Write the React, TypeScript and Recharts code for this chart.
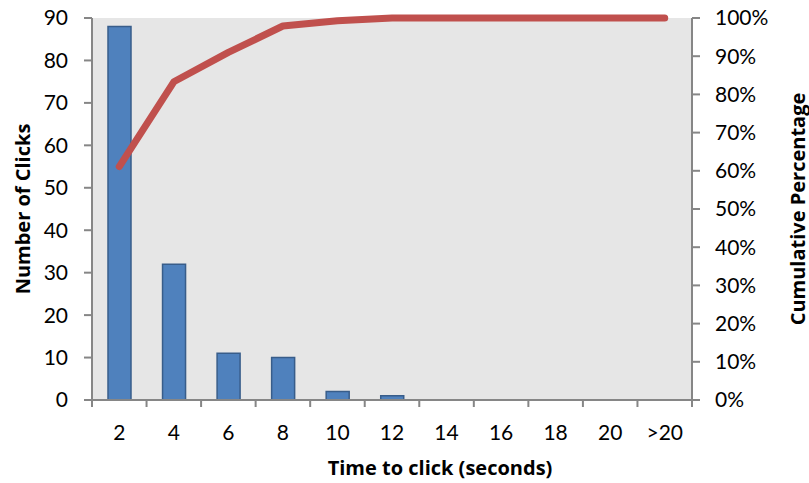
import React from 'react';
import { ComposedChart, Bar, Line, XAxis, YAxis, CartesianGrid } from 'recharts';

const categories = ['2', '4', '6', '8', '10', '12', '14', '16', '18', '20', '>20'];
const clicks = [88, 32, 11, 10, 2, 1, 0, 0, 0, 0, 0];
const cumulativePct = [61.1, 83.3, 91.0, 97.9, 99.3, 100, 100, 100, 100, 100, 100];
const leftTicks = [0, 10, 20, 30, 40, 50, 60, 70, 80, 90];
const rightTicks = [0, 10, 20, 30, 40, 50, 60, 70, 80, 90, 100];

const data = categories.map((c, i) => ({ cat: c, clicks: clicks[i], cum: cumulativePct[i] }));

const FONT = 'Lato, "Open Sans", sans-serif';
const TITLE_FONT = '"Open Sans", Lato, sans-serif';
const AXIS = '#868686';

const XTick = (props: any) => {
  const { x, y, payload, index } = props;
  const off = payload && payload.offset ? payload.offset : 0;
  const last = index === categories.length - 1;
  return (
    <g>
      <line x1={x - off} x2={x - off} y1={y} y2={y + 7} stroke={AXIS} strokeWidth={2} />
      {last && <line x1={x + off} x2={x + off} y1={y} y2={y + 7} stroke={AXIS} strokeWidth={2} />}
      <text x={x} y={y + 32} dy="0.36em" textAnchor="middle" fontSize={21} fontFamily={FONT} fill="#000">
        {payload.value}
      </text>
    </g>
  );
};

const LeftTitle = (props: any) => {
  const vb = props.viewBox || {};
  const cx = vb.x + 22;
  const cy = vb.y + vb.height / 2;
  return (
    <text x={cx} y={cy} transform={`rotate(-90 ${cx} ${cy})`} textAnchor="middle" dominantBaseline="central"
      fontSize={20} fontWeight="bold" fontFamily={TITLE_FONT} fill="#000">Number of Clicks</text>
  );
};

const RightTitle = (props: any) => {
  const vb = props.viewBox || {};
  const cx = vb.x + 105;
  const cy = vb.y + vb.height / 2;
  return (
    <text x={cx} y={cy} transform={`rotate(-90 ${cx} ${cy})`} textAnchor="middle" dominantBaseline="central"
      fontSize={20} fontWeight="bold" fontFamily={TITLE_FONT} fill="#000">Cumulative Percentage</text>
  );
};

const BottomTitle = (props: any) => {
  const vb = props.viewBox || {};
  const cx = vb.x + vb.width / 2 + 48;
  const cy = vb.y + 67;
  return (
    <text x={cx} y={cy} textAnchor="middle" dominantBaseline="central"
      fontSize={20} fontWeight="bold" fontFamily={TITLE_FONT} fill="#000">Time to click (seconds)</text>
  );
};

export default function App() {
  return (
    <div style={{ position: 'absolute', left: 0, top: 0, width: 809, height: 483, background: '#fff' }}>
      <ComposedChart width={809} height={483} data={data} margin={{ top: 18, right: 0, bottom: 0, left: 0 }}>
        <CartesianGrid fill="#E6E6E6" stroke="none" horizontal={false} vertical={false} yAxisId="left" />
        <XAxis dataKey="cat" height={83} tick={<XTick />} tickLine={false} tickSize={0} tickMargin={0}
          axisLine={{ stroke: AXIS, strokeWidth: 2 }} interval={0} label={{ content: <BottomTitle /> }} />
        <YAxis yAxisId="left" width={92} domain={[0, 90]} ticks={leftTicks} interval={0}
          axisLine={{ stroke: AXIS, strokeWidth: 2 }} tickLine={{ stroke: AXIS, strokeWidth: 2 }}
          tickSize={8} tickMargin={16} tick={{ fill: '#000', fontSize: 21, fontFamily: FONT }}
          label={{ content: <LeftTitle /> }} />
        <YAxis yAxisId="right" orientation="right" width={117} domain={[0, 100]} ticks={rightTicks} interval={0}
          tickFormatter={(v: number) => `${v}%`}
          axisLine={{ stroke: AXIS, strokeWidth: 2 }} tickLine={{ stroke: AXIS, strokeWidth: 2 }}
          tickSize={8} tickMargin={15} tick={{ fill: '#000', fontSize: 21, fontFamily: FONT, textAnchor: 'start' }}
          label={{ content: <RightTitle /> }} />
        <Bar yAxisId="left" dataKey="clicks" barSize={23} fill="#4F81BD" stroke="#385D8A" strokeWidth={1.5}
          isAnimationActive={false} />
        <Line yAxisId="right" dataKey="cum" type="linear" stroke="#C0504D" strokeWidth={7} dot={false}
          strokeLinecap="round" strokeLinejoin="round" isAnimationActive={false} />
      </ComposedChart>
    </div>
  );
}
